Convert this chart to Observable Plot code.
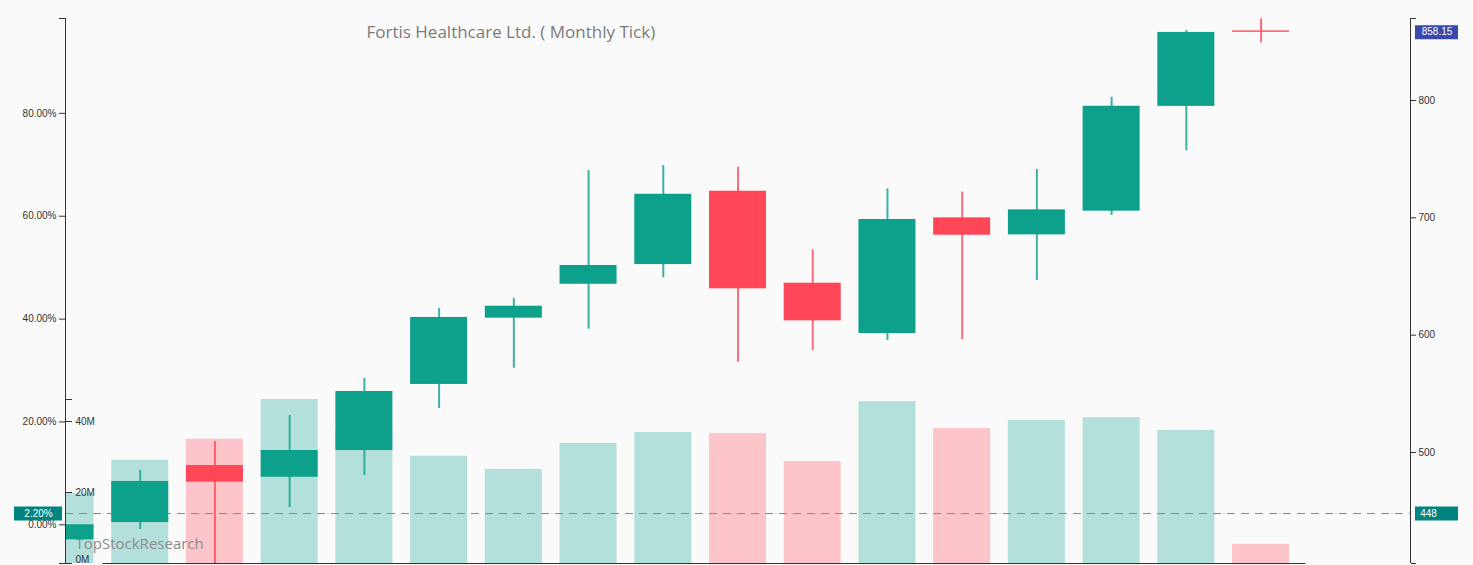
<!DOCTYPE html>
<html><head><meta charset="utf-8">
<script src="https://cdn.jsdelivr.net/npm/d3@7"></script>
<script src="https://cdn.jsdelivr.net/npm/@observablehq/plot@0.6"></script>
<style>
html,body{margin:0;padding:0;background:#fafafa;}
#wrap{position:relative;width:1473px;height:565px;overflow:hidden;}
#wrap svg{position:absolute;left:0;top:0;}
</style></head><body><div id="wrap"></div>
<script>
// ---- data ----
const title = "Fortis Healthcare Ltd. ( Monthly Tick)";
const watermark = "TopStockResearch";
const months = d3.range(17); // monthly candles, index
const open  = [425.6, 440.3, 488.9, 478.9, 501.7, 558.0, 614.5, 643.4, 660.2, 722.7, 644.3, 601.4, 700.0, 685.5, 705.7, 795.0, 859.3];
const high  = [438.4, 484.7, 509.4, 531.5, 563.1, 622.7, 631.5, 740.3, 744.6, 743.2, 672.8, 724.7, 721.8, 741.2, 802.8, 859.7, 869.6];
const low   = [425.6, 434.4, 398.0, 453.1, 480.4, 537.5, 571.8, 605.1, 648.9, 577.0, 586.9, 595.5, 596.1, 646.6, 702.0, 757.1, 849.2];
const close = [438.4, 475.3, 474.7, 501.7, 552.0, 615.1, 624.7, 659.4, 720.1, 639.5, 612.2, 698.6, 685.2, 706.8, 795.1, 858.0, 858.15];
const volume = [19.8, 29.1, 35.0, 46.2, 38.0, 30.2, 26.5, 33.8, 36.9, 36.6, 28.7, 45.6, 38.0, 40.3, 41.1, 37.5, 5.4].map(v => v * 1e6);
const basePrice = 438.36;       // 0.00% reference
const refPrice = 448;           // dashed reference level
const lastPrice = 858.15;
const pctTicks = [0, 20, 40, 60, 80];
const priceTicks = [500, 600, 700, 800];
const volTicks = [0, 20e6, 40e6];
const yDomain = [405.4, 869.9];
const xDomain = [0, 18];

// ---- layout ----
const W = 1473, H = 565, ML = 65, MR = 63, MT = 18, MB = 2;
const u = (xDomain[1] - xDomain[0]) / (W - ML - MR); // units per px
const hw = 28.5 * u;
const GREEN = "#0da08a", RED = "#ff4758";
const data = months.map(i => ({i, o: open[i], h: high[i], l: low[i], c: close[i], v: volume[i], up: close[i] >= open[i]}));

const font = "'Liberation Sans', Arial, sans-serif";

const volPlot = Plot.plot({
  width: W, height: H, marginLeft: ML, marginRight: MR, marginTop: 399, marginBottom: MB,
  x: {domain: xDomain, axis: null},
  y: {domain: [0, d3.max(volume)], axis: null},
  style: {background: "transparent", overflow: "visible", fontFamily: font},
  marks: [
    Plot.rect(data, {x1: d => d.i - hw, x2: d => d.i + hw, y1: 0, y2: "v",
      fill: d => d.up ? "#b3e0da" : "#fdc5ca", clip: true}),
    Plot.ruleY(volTicks.concat([d3.max(volume)]), {x1: 0, x2: 7 * u, stroke: "#333"}),
    Plot.text(volTicks.filter(d => d > 0), {x: 0, y: d => d, text: d => (d / 1e6) + "M", dx: 10, textAnchor: "start",
      fontSize: 10, fill: "#333"}),
    Plot.text(volTicks.filter(d => d === 0), {x: 0, y: d => d, text: d => (d / 1e6) + "M", dx: 10, dy: -4, textAnchor: "start",
      fontSize: 10, fill: "#333"})
  ]
});

const main = Plot.plot({
  width: W, height: H, marginLeft: ML, marginRight: MR, marginTop: MT, marginBottom: MB,
  x: {domain: xDomain, axis: null},
  y: {domain: yDomain, axis: null},
  style: {background: "transparent", overflow: "visible", fontFamily: font},
  marks: [
    Plot.ruleY([refPrice], {x1: xDomain[0], x2: xDomain[1], stroke: "#8a8a8a", strokeDasharray: "8,6"}),
    Plot.ruleY([yDomain[0]], {x1: 0.5, x2: 16.6, stroke: "#333"}),
    Plot.ruleX(data, {x: "i", y1: "l", y2: "h", stroke: d => d.up ? GREEN : RED, strokeWidth: 2, strokeOpacity: 0.8, clip: true}),
    Plot.rect(data, {x1: d => d.i - hw, x2: d => d.i + hw, y1: "o", y2: "c",
      fill: d => d.up ? GREEN : RED, clip: true}),
    // left axis (percent)
    Plot.ruleX([xDomain[0]], {stroke: "#333"}),
    Plot.axisY({anchor: "left", ticks: pctTicks.map(p => basePrice * (1 + p / 100)).concat(yDomain),
      tickFormat: d => yDomain.includes(d) ? "" : ((d / basePrice - 1) * 100).toFixed(2) + "%",
      tickSize: 6, tickPadding: 3, fontSize: 10, color: "#333"}),
    // right axis (price)
    Plot.ruleX([xDomain[1]], {stroke: "#333"}),
    Plot.axisY({anchor: "right", ticks: priceTicks.concat(yDomain),
      tickFormat: d => yDomain.includes(d) ? "" : String(d),
      tickSize: 5, tickPadding: 3, fontSize: 10, color: "#333"}),
    // badges
    Plot.ruleY([refPrice], {x1: -51 * u, x2: -3 * u, stroke: "#00847e", strokeWidth: 14}),
    Plot.text([refPrice], {x: -27 * u, y: d => d, text: d => ((d / basePrice - 1) * 100).toFixed(2) + "%", fill: "white", fontSize: 10}),
    Plot.ruleY([refPrice], {x1: xDomain[1] + 5 * u, x2: xDomain[1] + 48 * u, stroke: "#00847e", strokeWidth: 14}),
    Plot.text([refPrice], {x: xDomain[1] + 18 * u, y: d => d, text: d => String(d), fill: "white", fontSize: 10}),
    Plot.ruleY([lastPrice], {x1: xDomain[1] + 5 * u, x2: xDomain[1] + 48 * u, stroke: "#3a48ab", strokeWidth: 14}),
    Plot.text([lastPrice], {x: xDomain[1] + 26.5 * u, y: d => d, text: d => d.toFixed(2), fill: "white", fontSize: 10}),
    // title & watermark
    Plot.text([title], {frameAnchor: "top-left", dx: 301, dy: 14, textAnchor: "start", lineAnchor: "middle",
      fontSize: 17, fill: "#7a7a7a", fontFamily: "'Open Sans', sans-serif"}),
    Plot.text([watermark], {frameAnchor: "bottom-left", dx: 10, dy: -19, textAnchor: "start", lineAnchor: "middle",
      fontSize: 15, fill: "#8c8c8c", fontFamily: "'Open Sans', sans-serif"})
  ]
});

const wrap = document.getElementById("wrap");
wrap.appendChild(volPlot);
wrap.appendChild(main);
</script></body></html>
